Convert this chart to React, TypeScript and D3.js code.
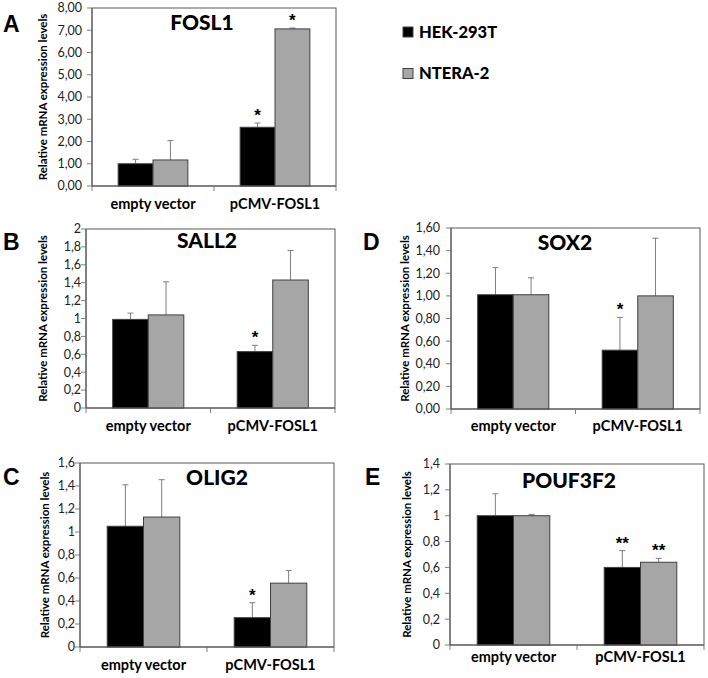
import React from "react";
import * as d3 from "d3";

const categories = ["empty vector", "pCMV-FOSL1"];
const seriesNames = ["HEK-293T", "NTERA-2"];
const seriesColors = ["#000000", "#a6a6a6"];

// FOSL1 (A)
const fosl1Hek = [1.0, 2.64];
const fosl1HekErr = [0.2, 0.19];
const fosl1Ntera = [1.17, 7.06];
const fosl1NteraErr = [0.87, 0.04];
const fosl1HekStars = ["", "*"];
const fosl1NteraStars = ["", "*"];

// SALL2 (B)
const sall2Hek = [0.99, 0.63];
const sall2HekErr = [0.07, 0.07];
const sall2Ntera = [1.04, 1.43];
const sall2NteraErr = [0.37, 0.33];
const sall2HekStars = ["", "*"];
const sall2NteraStars = ["", ""];

// OLIG2 (C)
const olig2Hek = [1.05, 0.255];
const olig2HekErr = [0.36, 0.13];
const olig2Ntera = [1.13, 0.555];
const olig2NteraErr = [0.325, 0.11];
const olig2HekStars = ["", "*"];
const olig2NteraStars = ["", ""];

// SOX2 (D)
const sox2Hek = [1.01, 0.52];
const sox2HekErr = [0.24, 0.29];
const sox2Ntera = [1.01, 1.0];
const sox2NteraErr = [0.15, 0.51];
const sox2HekStars = ["", "*"];
const sox2NteraStars = ["", ""];

// POUF3F2 (E)
const pouHek = [1.0, 0.6];
const pouHekErr = [0.17, 0.13];
const pouNtera = [1.0, 0.64];
const pouNteraErr = [0.01, 0.03];
const pouHekStars = ["", "**"];
const pouNteraStars = ["", "**"];

const CAL = "Lato, 'Open Sans', sans-serif";
const ARIAL = "'Liberation Sans', Arial, sans-serif";

type PanelProps = {
  letter: string;
  title: string;
  hek: number[];
  hekErr: number[];
  ntera: number[];
  nteraErr: number[];
  hekStars: string[];
  nteraStars: string[];
  yMax: number;
  step: number;
  decimals: number | null;
  left: number;
  right: number;
  top: number;
  bottom: number;
  letterX: number;
  letterY: number;
  titleX: number;
  titleY: number;
  yLabelX: number;
  tickGap: number;
  catY: number;
};

function Panel(p: PanelProps) {
  const y = d3.scaleLinear().domain([0, p.yMax]).range([p.bottom, p.top]);
  const x0 = d3.scaleBand<string>().domain(categories).range([p.left, p.right]).padding(0);
  const x1 = d3
    .scaleBand<string>()
    .domain(seriesNames)
    .range([0, x0.bandwidth()])
    .paddingInner(0)
    .paddingOuter(0.75);
  const ticks = d3.range(0, p.yMax + p.step / 2, p.step);
  const fmt = (v: number) =>
    p.decimals !== null
      ? v.toFixed(p.decimals).replace(".", ",")
      : String(+v.toFixed(1)).replace(".", ",");
  const series = [
    { name: seriesNames[0], vals: p.hek, errs: p.hekErr, stars: p.hekStars, color: seriesColors[0] },
    { name: seriesNames[1], vals: p.ntera, errs: p.nteraErr, stars: p.nteraStars, color: seriesColors[1] },
  ];
  const catTicks = [p.left, ...categories.map((c) => (x0(c) as number) + x0.bandwidth())];
  return (
    <g>
      <text x={p.letterX} y={p.letterY} fontFamily={ARIAL} fontWeight="bold" fontSize={23} fill="#000">
        {p.letter}
      </text>
      <rect x={p.left} y={p.top} width={p.right - p.left} height={p.bottom - p.top} fill="none" stroke="#595959" strokeWidth={1} />
      {ticks.map((t) => (
        <g key={t}>
          <line x1={p.left - 5} x2={p.left} y1={y(t)} y2={y(t)} stroke="#808080" />
          <text x={p.left - p.tickGap} y={y(t)} dy="0.35em" textAnchor="end" fontFamily={CAL} fontSize={12.5} fill="#222">
            {fmt(t)}
          </text>
        </g>
      ))}
      {catTicks.map((cx, i) => (
        <line key={i} x1={cx} x2={cx} y1={p.bottom} y2={p.bottom + 5} stroke="#808080" />
      ))}
      {series.map((s) =>
        categories.map((c, i) => {
          const bx = (x0(c) as number) + (x1(s.name) as number);
          const bw = x1.bandwidth();
          const v = s.vals[i];
          const e = s.errs[i];
          const cx = bx + bw / 2;
          return (
            <g key={s.name + c}>
              <line x1={cx} x2={cx} y1={y(v)} y2={y(v + e)} stroke="#7f7f7f" strokeWidth={1} />
              <line x1={cx - 3} x2={cx + 3} y1={y(v + e)} y2={y(v + e)} stroke="#7f7f7f" strokeWidth={1} />
              <rect x={bx} y={y(v)} width={bw} height={p.bottom - y(v)} fill={s.color} stroke="#404040" strokeWidth={1} />
              {s.stars[i] ? (
                <text x={cx} y={y(v + e) - 2} textAnchor="middle" fontFamily={ARIAL} fontWeight="bold" fontSize={17} fill="#000">
                  {s.stars[i]}
                </text>
              ) : null}
            </g>
          );
        })
      )}
      <line x1={p.left} x2={p.right} y1={p.bottom} y2={p.bottom} stroke="#595959" />
      <line x1={p.left} x2={p.left} y1={p.top} y2={p.bottom} stroke="#595959" />
      <text x={p.titleX} y={p.titleY} textAnchor="middle" fontFamily={CAL} fontWeight={900} fontSize={21} fill="#000">
        {p.title}
      </text>
      <text
        transform={`translate(${p.yLabelX},${(p.top + p.bottom) / 2}) rotate(-90)`}
        textAnchor="middle"
        dy="0.35em"
        fontFamily={CAL}
        fontWeight="bold"
        fontSize={11.5}
        fill="#000"
      >
        Relative mRNA expression levels
      </text>
      {categories.map((c) => (
        <text key={c} x={(x0(c) as number) + x0.bandwidth() / 2} y={p.catY} textAnchor="middle" fontFamily={CAL} fontWeight="bold" fontSize={14.5} fill="#000">
          {c}
        </text>
      ))}
    </g>
  );
}

export default function App() {
  return (
    <svg width={708} height={678} style={{ position: "absolute", left: 0, top: 0, background: "#fff" }}>
      <rect x={0} y={0} width={708} height={678} fill="#fff" />
      <Panel
        letter="A" title="FOSL1"
        hek={fosl1Hek} hekErr={fosl1HekErr} ntera={fosl1Ntera} nteraErr={fosl1NteraErr}
        hekStars={fosl1HekStars} nteraStars={fosl1NteraStars}
        yMax={8} step={1} decimals={2}
        left={92} right={336} top={8} bottom={186}
        letterX={3} letterY={32} titleX={202} titleY={30} yLabelX={43} tickGap={10} catY={209}
      />
      <Panel
        letter="B" title="SALL2"
        hek={sall2Hek} hekErr={sall2HekErr} ntera={sall2Ntera} nteraErr={sall2NteraErr}
        hekStars={sall2HekStars} nteraStars={sall2NteraStars}
        yMax={2} step={0.2} decimals={null}
        left={86} right={335} top={229} bottom={408}
        letterX={3} letterY={250} titleX={207} titleY={248} yLabelX={43} tickGap={5} catY={431}
      />
      <Panel
        letter="C" title="OLIG2"
        hek={olig2Hek} hekErr={olig2HekErr} ntera={olig2Ntera} nteraErr={olig2NteraErr}
        hekStars={olig2HekStars} nteraStars={olig2NteraStars}
        yMax={1.6} step={0.2} decimals={null}
        left={80} right={334} top={463} bottom={647}
        letterX={3} letterY={485} titleX={217} titleY={485} yLabelX={45} tickGap={5} catY={670}
      />
      <Panel
        letter="D" title="SOX2"
        hek={sox2Hek} hekErr={sox2HekErr} ntera={sox2Ntera} nteraErr={sox2NteraErr}
        hekStars={sox2HekStars} nteraStars={sox2NteraStars}
        yMax={1.6} step={0.2} decimals={2}
        left={451} right={700} top={228} bottom={409}
        letterX={363} letterY={250} titleX={565} titleY={250} yLabelX={405} tickGap={11} catY={431}
      />
      <Panel
        letter="E" title="POUF3F2"
        hek={pouHek} hekErr={pouHekErr} ntera={pouNtera} nteraErr={pouNteraErr}
        hekStars={pouHekStars} nteraStars={pouNteraStars}
        yMax={1.4} step={0.2} decimals={null}
        left={450} right={704} top={464} bottom={645}
        letterX={365} letterY={485} titleX={569} titleY={488} yLabelX={407} tickGap={10} catY={662}
      />
      {seriesNames.map((n, i) => (
        <g key={n}>
          <rect x={403} y={27 + i * 41.5} width={10} height={10} fill={seriesColors[i]} stroke="#404040" />
          <text x={419} y={32 + i * 41.5} dy="0.35em" fontFamily={CAL} fontWeight={900} fontSize={16.5} fill="#000">
            {n}
          </text>
        </g>
      ))}
    </svg>
  );
}
